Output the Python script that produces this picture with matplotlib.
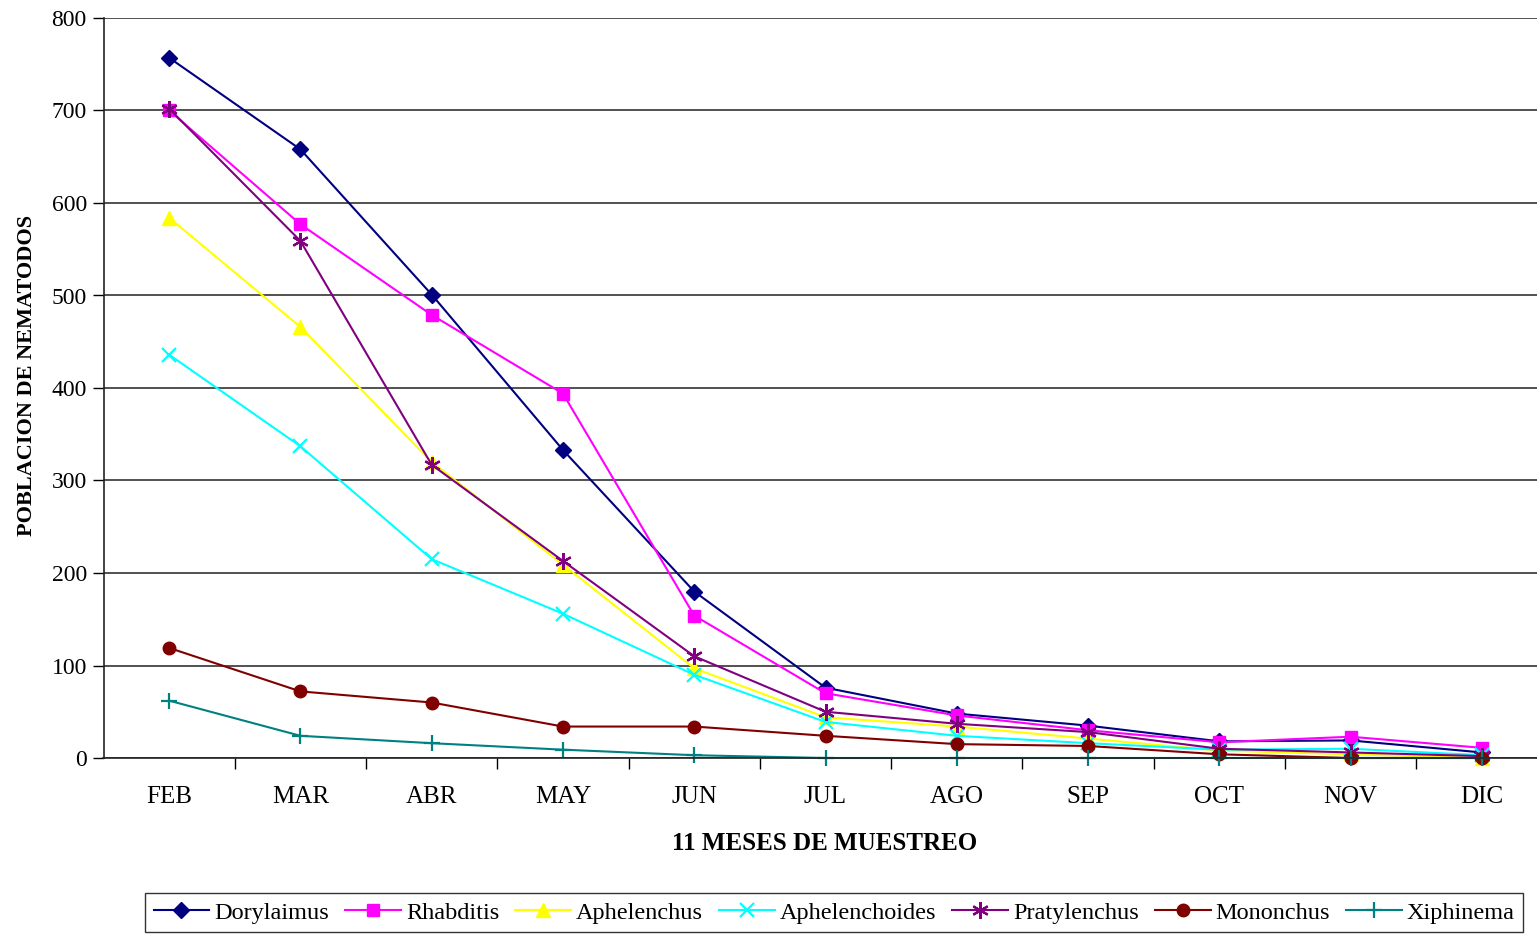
import matplotlib
matplotlib.use("Agg")
import matplotlib.pyplot as plt
from matplotlib.ticker import MultipleLocator, FixedLocator

plt.rcParams['font.family'] = ['Liberation Serif', 'DejaVu Serif']

meses = ['FEB', 'MAR', 'ABR', 'MAY', 'JUN', 'JUL', 'AGO', 'SEP', 'OCT', 'NOV', 'DIC']

dorylaimus = [757, 658, 501, 333, 180, 76, 48, 35, 18, 19, 6]
rhabditis = [700, 577, 479, 394, 154, 70, 46, 30, 17, 23, 11]
aphelenchus = [584, 466, 320, 209, 97, 44, 34, 21, 8, 4, 0]
aphelenchoides = [436, 337, 215, 156, 90, 39, 24, 16, 9, 10, 3]
pratylenchus = [702, 559, 317, 213, 110, 50, 37, 28, 10, 6, 2]
mononchus = [119, 72, 60, 34, 34, 24, 15, 13, 4, 0, 0]
xiphinema = [62, 24, 16, 9, 3, 0, 0, 0, 0, 0, 0]

series = [
    ('Dorylaimus', dorylaimus, '#000080', 'D', 8),
    ('Rhabditis', rhabditis, '#FF00FF', 's', 9),
    ('Aphelenchus', aphelenchus, '#FFFF00', '^', 10),
    ('Aphelenchoides', aphelenchoides, '#00FFFF', 'x', 10),
    ('Pratylenchus', pratylenchus, '#800080', (6, 2, 0), 12),
    ('Mononchus', mononchus, '#800000', 'o', 9),
    ('Xiphinema', xiphinema, '#008080', '+', 11),
]

W, H = 1537, 935
fig = plt.figure(figsize=(W / 100, H / 100), dpi=100)
# category axis runs a bit past the right edge of the canvas
ax = fig.add_axes([103.5 / W, 177 / H, 1444 / W, 740 / H])

x = list(range(len(meses)))
for name, vals, color, marker, ms in series:
    ax.plot(x, vals, color=color, lw=1.5, marker=marker, markersize=ms,
            markeredgewidth=1.6 if marker in ('x', '+') or isinstance(marker, tuple) else 1.0,
            markerfacecolor=color, markeredgecolor=color, label=name, clip_on=False)

ax.set_xlim(-0.5, len(meses) - 0.5)
ax.set_ylim(0, 800)
ax.yaxis.set_major_locator(MultipleLocator(100))
ax.yaxis.grid(True, color='#333333', lw=1.2)
ax.set_axisbelow(True)

ax.xaxis.set_major_locator(FixedLocator(x))
ax.set_xticklabels(meses)
ax.xaxis.set_minor_locator(FixedLocator([i + 0.5 for i in range(len(meses) - 1)]))
ax.tick_params(axis='x', which='major', length=0, pad=20, labelsize=18)
ax.tick_params(axis='x', which='minor', length=8, width=1, direction='out')
ax.tick_params(axis='y', length=8, width=1, direction='out', labelsize=17, pad=4)

for side in ('top', 'right'):
    ax.spines[side].set_visible(False)
for side in ('left', 'bottom'):
    ax.spines[side].set_linewidth(1.2)
    ax.spines[side].set_color('#222222')

ax.set_ylabel('POBLACION DE NEMATODOS', fontsize=16, fontweight='bold')
ax.yaxis.set_label_coords(-66 / 1444, (758 - 375) / 740)
ax.set_xlabel('11 MESES DE MUESTREO', fontsize=18, fontweight='bold')
ax.xaxis.set_label_coords((825 - 103.5) / 1444, -(843 - 758) / 740)
ax.xaxis.label.set_va('center')

leg = fig.legend(loc='upper left', bbox_to_anchor=(145 / W, 1 - 893 / H),
                 ncol=7, fontsize=17.5, frameon=True, fancybox=False,
                 handlelength=2.3, handletextpad=0.2, columnspacing=0.66,
                 borderaxespad=0, borderpad=0.35)
leg.get_frame().set_edgecolor('black')
leg.get_frame().set_linewidth(1.0)

fig.savefig('out.png', dpi=100)
